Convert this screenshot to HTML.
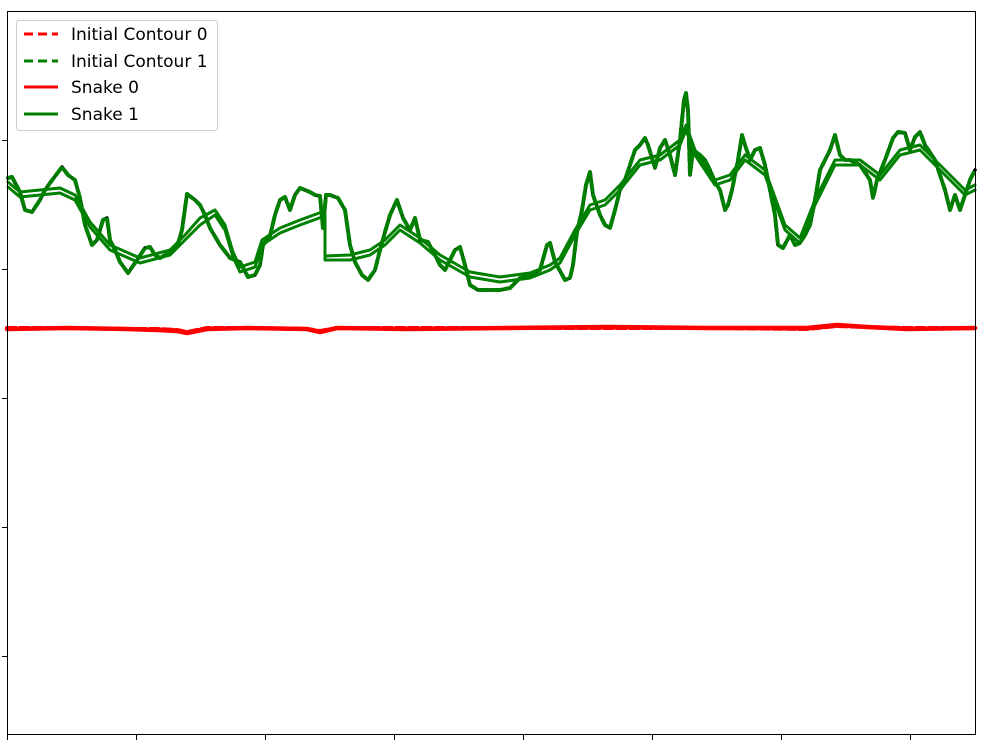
<!DOCTYPE html>
<html><head><meta charset="utf-8"><style>
body{margin:0;background:#fff;font-family:"DejaVu Sans","Liberation Sans",sans-serif}
svg{display:block}
</style></head><body>
<svg id="chart" width="982" height="745" viewBox="0 0 982 745" xmlns="http://www.w3.org/2000/svg">
<g id="plot"></g>
<rect x="7.5" y="11.5" width="968" height="723" fill="none" stroke="#000" stroke-width="1"/>
<g id="ticks"></g>
<g font-family="DejaVu Sans, sans-serif">
<rect x="16.5" y="20.5" width="201" height="110" rx="3" fill="#fff" fill-opacity="0.8" stroke="#ccc"/>
<line x1="24" y1="34" x2="58" y2="34" stroke="red" stroke-width="3" stroke-dasharray="9,5"/>
<text x="71" y="40" font-size="17">Initial Contour 0</text>
<line x1="24" y1="61" x2="58" y2="61" stroke="green" stroke-width="3" stroke-dasharray="9,5"/>
<text x="71" y="67" font-size="17">Initial Contour 1</text>
<line x1="24" y1="87" x2="58" y2="87" stroke="red" stroke-width="3"/>
<text x="71" y="93" font-size="17">Snake 0</text>
<line x1="24" y1="114" x2="58" y2="114" stroke="green" stroke-width="3"/>
<text x="71" y="120" font-size="17">Snake 1</text>
</g>
</svg>
<script>
const xTicks=[0,129,258,387,516,645,774,903];
const yTicks=[129,258,387,516,645];
const contour1X=[1,5,13,18,25,33,38,43,55,61,68,73,78,85,90,96,100,103,108,113,121,128,138,143,148,153,158,165,170,175,180,188,193,198,203,213,223,233,241,248,253,256,263,268,273,278,283,288,293,298,303,308,313,316,319,323,331,338,343,348,355,361,368,373,378,383,390,396,403,408,413,421,428,433,438,443,448,453,458,463,471,483,493,503,508,513,523,533,540,543,548,558,563,566,570,575,579,583,586,593,598,603,608,613,618,623,628,633,638,641,648,653,658,663,668,673,677,679,681,683,686,693,698,703,708,713,718,721,725,731,735,738,743,748,753,758,763,768,771,776,783,788,793,798,803,808,813,818,823,828,833,838,843,853,863,866,870,878,886,891,898,903,908,913,918,928,933,938,943,948,953,958,963,968];
const contour1Y=[167,166,181,199,201,189,179,172,156,164,169,187,214,234,229,209,207,229,239,251,262,252,237,236,244,247,244,241,236,219,183,189,194,204,217,234,247,251,266,264,254,234,225,204,189,186,199,184,177,179,181,184,185,217,184,184,187,199,234,251,264,269,259,239,221,204,189,207,219,207,229,231,244,254,259,249,239,236,254,274,279,279,279,277,272,267,264,259,234,232,251,269,267,254,221,199,174,161,184,204,214,217,199,179,169,154,139,134,127,134,157,137,129,144,164,129,89,82,99,164,139,144,149,159,171,179,199,194,179,149,124,134,149,139,137,154,179,204,234,237,224,234,232,224,214,189,159,149,139,124,144,149,149,154,169,187,169,149,127,121,122,139,126,121,134,149,164,179,199,184,199,184,169,159];
const snake1X=[1,13,53,68,83,103,133,163,178,193,208,218,226,233,248,255,273,293,315,318,318,343,363,378,393,413,433,463,493,523,543,553,568,583,598,613,633,653,673,679,688,708,723,738,758,778,793,808,828,853,873,893,913,938,958,968];
const snake1Y=[171,181,177,184,211,234,247,239,224,207,199,214,241,256,251,229,217,209,201,204,245,244,239,229,214,227,244,261,266,262,254,247,219,194,189,174,149,144,129,114,139,169,164,144,159,214,227,189,149,149,164,139,134,159,179,174];
const snake1bY=[176,186,182,189,216,239,252,244,229,214,204,219,246,261,256,234,222,214,206,209,249,249,244,234,219,232,249,266,271,267,259,252,224,199,194,179,154,149,134,119,144,174,169,149,164,219,232,194,154,154,169,144,139,164,184,179];
const contour0X=[0,60,120,150,170,180,200,240,300,313,330,400,500,600,700,800,830,860,900,968];
const contour0Y=[317,317,318,318,319,321,317,317,318,320,317,317,317,317,317,318,315,316,317,317];
const snake0Y=[318,317,318,319,320,322,318,317,318,321,317,318,317,316,317,317,314,316,318,317];
const X0=7,Y0=11;
function xs(v){return X0+v;}
function ys(v){return Y0+v;}
const NS='http://www.w3.org/2000/svg';
const plot=document.getElementById('plot');
function line(xa,ya,stroke,w,dash,name){
  const p=document.createElementNS(NS,'polyline');
  p.setAttribute('points',xa.map((x,i)=>xs(x).toFixed(1)+','+ys(ya[i]).toFixed(1)).join(' '));
  p.setAttribute('fill','none');p.setAttribute('stroke',stroke);p.setAttribute('stroke-width',w);
  p.setAttribute('stroke-linejoin','round');p.setAttribute('stroke-linecap','round');
  if(dash)p.setAttribute('stroke-dasharray',dash);
  
  
  plot.appendChild(p);
}
line(contour1X,contour1Y,'#000',3.5,null,'image-contour-1');
line(contour1X,contour1Y,'green',4,'9,4','initial-contour-1');
line(snake1X,snake1Y,'green',3,null,'snake-1');
line(snake1X,snake1bY,'green',3,null,'snake-1-alt');
line(contour0X,contour0Y,'#000',3,null,'image-contour-0');
line(contour0X,contour0Y,'red',4,'9,4','initial-contour-0');
line(contour0X,snake0Y,'red',4.5,null,'snake-0');
const tg=document.getElementById('ticks');
xTicks.forEach(t=>{const l=document.createElementNS(NS,'line');
l.setAttribute('x1',xs(t)+0.5);l.setAttribute('x2',xs(t)+0.5);l.setAttribute('y1',735);l.setAttribute('y2',740);l.setAttribute('stroke','#000');


tg.appendChild(l);});
yTicks.forEach(t=>{const l=document.createElementNS(NS,'line');
l.setAttribute('x1',2);l.setAttribute('x2',7);l.setAttribute('y1',ys(t)+0.5);l.setAttribute('y2',ys(t)+0.5);l.setAttribute('stroke','#000');


tg.appendChild(l);});
</script>
</body></html>
